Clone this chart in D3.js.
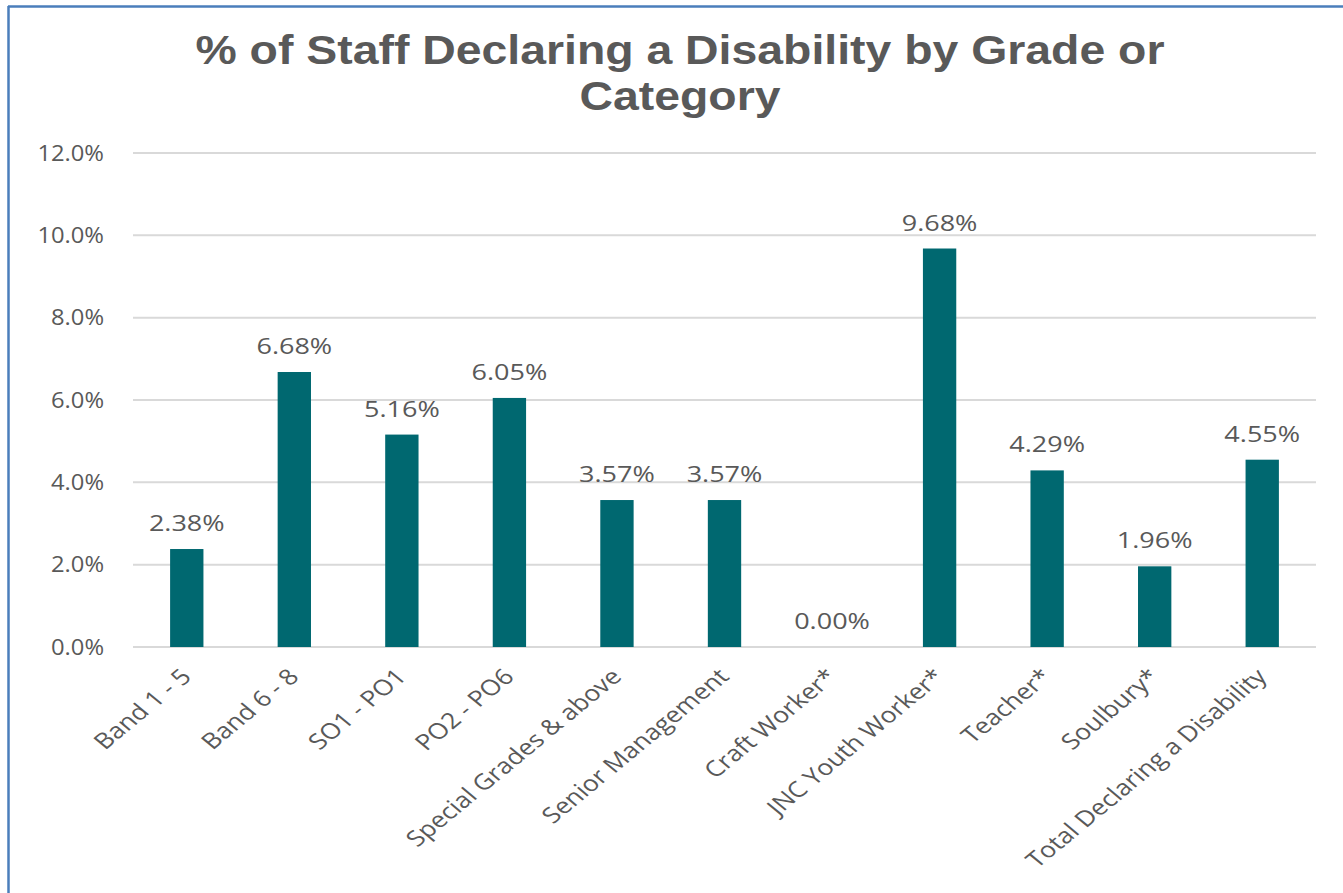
<!DOCTYPE html>
<html><head><meta charset="utf-8">
<script src="https://cdn.jsdelivr.net/npm/d3@7"></script>
<style>body{margin:0;background:#fff}svg{display:block}</style>
</head><body>
<svg id="c" width="1343" height="893"></svg>
<script>
const categories = ["Band 1 - 5","Band 6 - 8","SO1 - PO1","PO2 - PO6","Special Grades & above","Senior Management","Craft Worker*","JNC Youth Worker*","Teacher*","Soulbury*","Total Declaring a Disability"];
const values = [2.38,6.68,5.16,6.05,3.57,3.57,0.00,9.68,4.29,1.96,4.55];
const yTicks = [0,2,4,6,8,10,12];
const title = ["% of Staff Declaring a Disability by Grade or","Category"];

const svg = d3.select("#c");
const gray = "#595959";
// border (top and left)
svg.append("line").attr("x1",8).attr("y1",6.5).attr("x2",1343).attr("y2",6.5).attr("stroke","#4a7ebb").attr("stroke-width",2.5);
svg.append("line").attr("x1",8.5).attr("y1",6).attr("x2",8.5).attr("y2",893).attr("stroke","#4a7ebb").attr("stroke-width",2.5);

const m = {left:133, right:1316, top:153, bottom:647};
const x = d3.scaleBand().domain(categories).range([m.left,m.right]).paddingInner(0.69).paddingOuter(0.345);
const y = d3.scaleLinear().domain([0,12]).range([m.bottom,m.top]);

svg.append("g").selectAll("line").data(yTicks).join("line")
  .attr("x1",m.left).attr("x2",m.right).attr("y1",d=>y(d)).attr("y2",d=>y(d))
  .attr("stroke","#d9d9d9").attr("stroke-width",2);

svg.append("g").selectAll("text").data(yTicks).join("text")
  .attr("transform",d=>`translate(104,${y(d)}) scale(1.08,1)`).attr("dy","0.35em").attr("text-anchor","end")
  .attr("font-family","Open Sans").attr("font-size",22).attr("fill",gray)
  .text(d=>d.toFixed(1)+"%");

svg.append("g").selectAll("rect").data(values).join("rect")
  .attr("x",(d,i)=>x(categories[i])).attr("width",x.bandwidth())
  .attr("y",d=>y(d)).attr("height",d=>y(0)-y(d)).attr("fill","#006870");

svg.append("g").selectAll("text").data(values).join("text")
  .attr("transform",(d,i)=>`translate(${x(categories[i])+x.bandwidth()/2},${y(d)-18}) scale(1.2,1)`)
  .attr("text-anchor","middle").attr("font-family","Open Sans").attr("font-size",22.5).attr("fill",gray)
  .text(d=>d.toFixed(2)+"%");

svg.append("g").selectAll("text").data(categories).join("text")
  .attr("transform",d=>`translate(${x(d)+x.bandwidth()/2+6},${m.bottom+31}) scale(1.21,1) rotate(-45)`)
  .attr("text-anchor","end").attr("font-family","Open Sans").attr("font-size",22).attr("fill",gray)
  .text(d=>d);

svg.append("g").selectAll("text").data(title).join("text")
  .attr("transform",(d,i)=>`translate(680,${64+i*46}) scale(1.16,1)`).attr("text-anchor","middle")
  .attr("font-family","Liberation Sans, Arial").attr("font-weight","bold").attr("font-size",40).attr("fill",gray)
  .text(d=>d);
</script>
</body></html>
